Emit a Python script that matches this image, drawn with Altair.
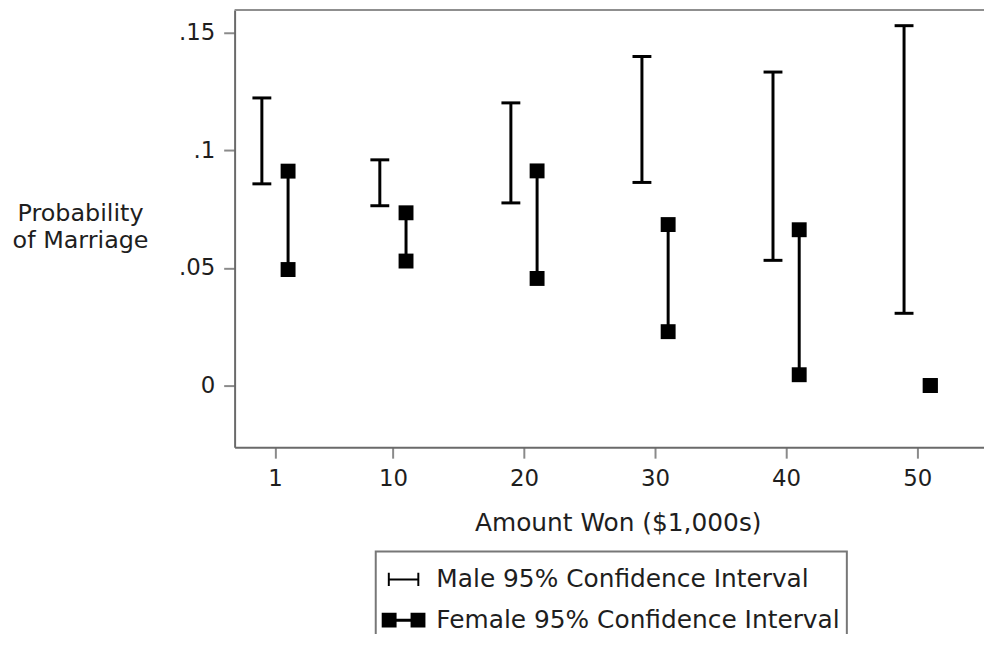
import altair as alt
import pandas as pd

# ---- data ----
amount_ticks = [1, 10, 20, 30, 40, 50]
amount_tick_labels = ["1", "10", "20", "30", "40", "50"]
prob_ticks = [0, 0.05, 0.1, 0.15]
prob_tick_labels = ["0", ".05", ".1", ".15"]

male_x = [0, 9, 19, 29, 39, 49]
male_lo = [0.0857, 0.0764, 0.0776, 0.0863, 0.0532, 0.0307]
male_hi = [0.1222, 0.0959, 0.1201, 0.1398, 0.1332, 0.1529]

female_x = [2, 11, 21, 31, 41, 51]
female_lo = [0.0493, 0.0529, 0.0455, 0.0229, 0.0046, 0.0]
female_hi = [0.0911, 0.0734, 0.0912, 0.0684, 0.0662, 0.0]

series = ["Male 95% Confidence Interval", "Female 95% Confidence Interval"]

FONT = "DejaVu Sans"
TXT = "#1e1e1e"
AX = "#6a6a6a"
W, H = 754, 440

male_df = pd.DataFrame({"x": male_x, "lo": male_lo, "hi": male_hi})
female_df = pd.DataFrame({"x": female_x, "lo": female_lo, "hi": female_hi})
legend_df = pd.DataFrame({"series": series, "x": [10, 10], "lo": [0.1, 0.1]})

xscale = alt.Scale(domain=[-2.08, 55.1], nice=False, zero=False)
yscale = alt.Scale(domain=[-0.0262, 0.1596], nice=False, zero=False)

x_label_expr = " : ".join(
    [f"datum.value == {v} ? '{l}'" for v, l in zip(amount_ticks, amount_tick_labels)]
) + " : ''"
y_label_expr = " : ".join(
    [f"abs(datum.value - {v}) < 1e-9 ? '{l}'" for v, l in zip(prob_ticks, prob_tick_labels)]
) + " : ''"

xaxis = alt.Axis(
    values=amount_ticks, labelExpr=x_label_expr, grid=False,
    domainColor=AX, domainWidth=2, tickColor="#8a8a8a", tickWidth=2, tickSize=11,
    labelFont=FONT, labelFontSize=23, labelColor=TXT, labelPadding=10,
    title="Amount Won ($1,000s)", titleFont=FONT, titleFontSize=25,
    titleFontWeight="normal", titleColor=TXT, titleX=385.5, titleY=84,
    titleAlign="center", titleBaseline="alphabetic",
)
yaxis = alt.Axis(
    values=prob_ticks, labelExpr=y_label_expr, grid=False,
    domainColor=AX, domainWidth=2, tickColor="#8a8a8a", tickWidth=2, tickSize=11,
    labelFont=FONT, labelFontSize=23, labelColor=TXT, labelPadding=9,
    title=["Probability", "of Marriage"], titleFont=FONT, titleFontSize=24,
    titleFontWeight="normal", titleColor=TXT, titleAngle=0, titleAlign="center",
    titleBaseline="alphabetic", titleX=-155.5, titleY=212, titleLineHeight=27,
)

X = alt.X("x:Q", scale=xscale, axis=xaxis)

male_rule = alt.Chart(male_df).mark_rule(color="black", strokeWidth=3).encode(
    x=X, y=alt.Y("lo:Q", scale=yscale, axis=yaxis), y2="hi:Q"
)
male_cap_lo = alt.Chart(male_df).mark_tick(
    orient="horizontal", color="black", size=19, thickness=3, opacity=1
).encode(x=X, y=alt.Y("lo:Q", scale=yscale, axis=yaxis))
male_cap_hi = alt.Chart(male_df).mark_tick(
    orient="horizontal", color="black", size=19, thickness=3, opacity=1
).encode(x=X, y=alt.Y("hi:Q", scale=yscale, axis=yaxis))

female_rule = alt.Chart(female_df).mark_rule(color="black", strokeWidth=3).encode(
    x=X, y=alt.Y("lo:Q", scale=yscale, axis=yaxis), y2="hi:Q"
)
female_sq_lo = alt.Chart(female_df).mark_square(
    color="black", size=225, filled=True, opacity=1
).encode(x=X, y=alt.Y("lo:Q", scale=yscale, axis=yaxis))
female_sq_hi = alt.Chart(female_df).mark_square(
    color="black", size=225, filled=True, opacity=1
).encode(x=X, y=alt.Y("hi:Q", scale=yscale, axis=yaxis))

male_path = ("M-0.72,-0.045H0.72V0.045H-0.72Z"
             "M-0.72,-0.3H-0.63V0.3H-0.72Z"
             "M0.63,-0.3H0.72V0.3H0.63Z")
female_path = ("M-1,-0.34H-0.32V0.34H-1Z"
               "M0.32,-0.34H1V0.34H0.32Z"
               "M-0.32,-0.07H0.32V0.07H-0.32Z")

legend_layer = alt.Chart(legend_df).mark_point(
    filled=True, opacity=0, color="black"
).encode(
    x=X,
    y=alt.Y("lo:Q", scale=yscale, axis=yaxis),
    shape=alt.Shape(
        "series:N",
        scale=alt.Scale(domain=series, range=[male_path, female_path]),
        legend=alt.Legend(
            title=None, orient="none", legendX=142, legendY=545,
            direction="vertical", strokeColor="#777777", padding=6,
            symbolSize=1936, symbolFillColor="black", symbolStrokeWidth=0,
            symbolOpacity=1, labelFont=FONT, labelFontSize=25, labelColor=TXT,
            labelOffset=11, rowPadding=6, labelLimit=1000,
            labelExpr="datum.label + ' \u2003'",
        ),
    ),
)

top_border = alt.Chart(pd.DataFrame({"a": [0]})).mark_rule(
    color="#8f8f8f", strokeWidth=2
).encode(x=alt.value(0), x2=alt.value(W), y=alt.value(0))

chart = alt.layer(
    male_rule, male_cap_lo, male_cap_hi,
    female_rule, female_sq_lo, female_sq_hi,
    legend_layer, top_border,
).properties(
    width=W, height=H,
    autosize=alt.AutoSizeParams(type="none"),
    padding={"left": 228, "top": 0, "right": 0, "bottom": 186},
).configure_view(stroke=None).configure_legend(strokeWidth=2)

chart.save("out.html", embed_options={"renderer": "svg", "actions": False})
